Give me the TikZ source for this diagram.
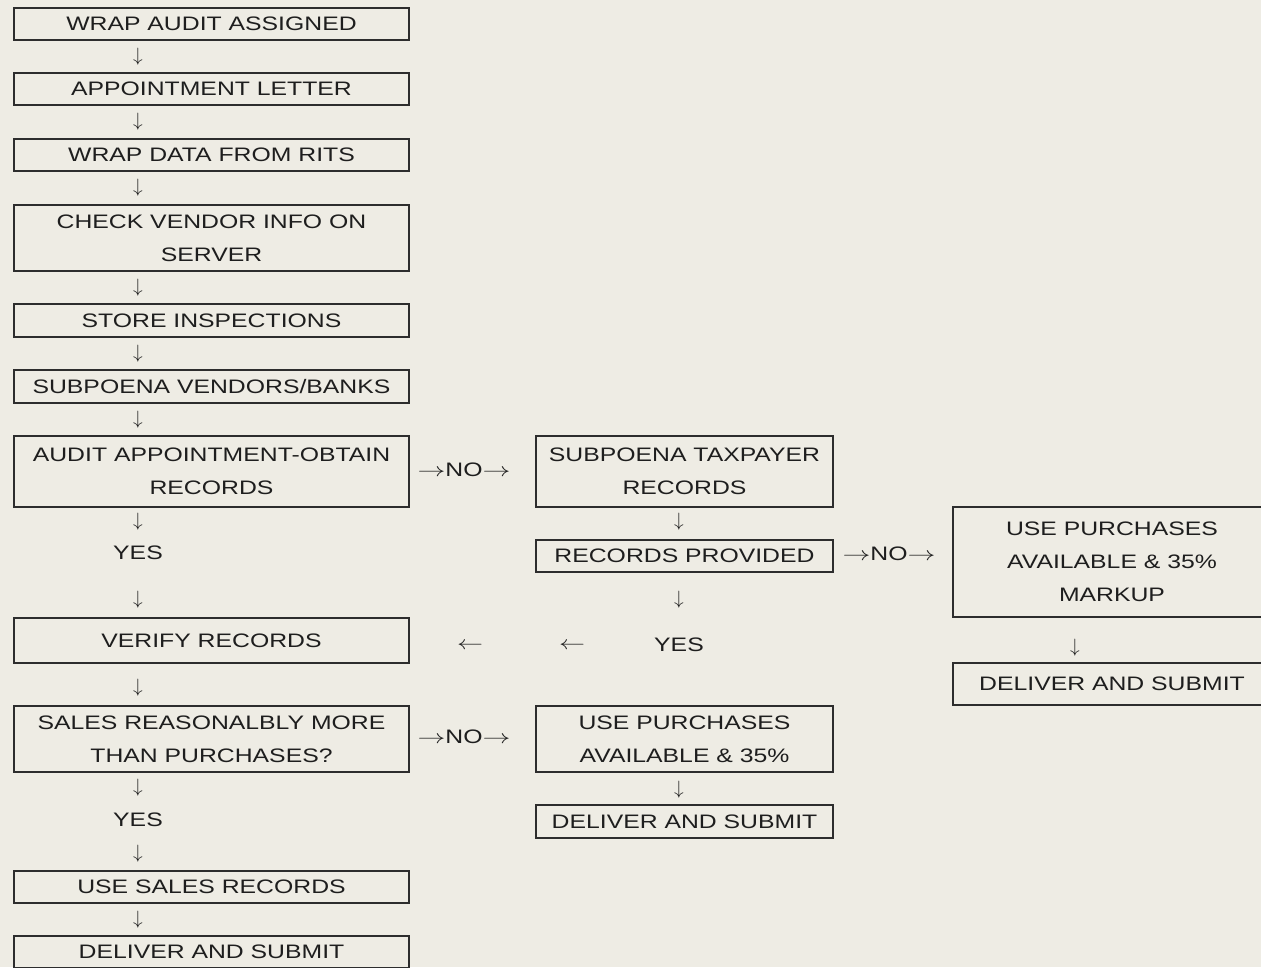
\documentclass[tikz,border=0pt]{standalone}
\usepackage{fontspec}
\setmainfont{Liberation Sans}[FakeStretch=1.27]
\usetikzlibrary{positioning}
\definecolor{slidebg}{RGB}{238, 236, 228}
\definecolor{boxline}{RGB}{45, 45, 45}
\definecolor{inktext}{RGB}{30, 30, 30}
\newcommand{\flowdown}{$\downarrow$}
\newcommand{\flowright}{\scalebox{1.45}[1]{$\rightarrow$}}
\newcommand{\flowleft}{\scalebox{1.35}[1]{$\leftarrow$}}
\tikzset{
    stepbox/.style={draw=boxline, fill=slidebg, rectangle, line width=1.1pt, inner sep=0pt, align=center, text=inktext, font=\fontsize{11.1}{18.8}\selectfont},
    leftbox/.style={stepbox, minimum width=7.9cm},
    midbox/.style={stepbox, minimum width=5.94cm},
    rightbox/.style={stepbox, minimum width=6.38cm},
    flowmark/.style={inner sep=0pt, text=inktext, font=\fontsize{11.1}{18.8}\selectfont},
}

\begin{document}
\begin{tikzpicture}[x=0.02cm, y=-0.02cm]
    % Page
    \useasboundingbox (0, 0) rectangle (1261, 967);
    \clip (0, 0) rectangle (1261, 967);
    \fill[slidebg] (0, 0) rectangle (1261, 967);

    % Left column
    \node[leftbox, minimum height=0.64cm] (assigned) at (211.5, 24) {WRAP AUDIT ASSIGNED};
    \node[flowmark] (d1) at (138, 57) {\flowdown};
    \node[leftbox, minimum height=0.64cm] (letter) at (211.5, 89) {APPOINTMENT LETTER};
    \node[flowmark] (d2) at (138, 122) {\flowdown};
    \node[leftbox, minimum height=0.64cm] (rits) at (211.5, 155) {WRAP DATA FROM RITS};
    \node[flowmark] (d3) at (138, 188) {\flowdown};
    \node[leftbox, minimum height=1.32cm] (vendor) at (211.5, 238) {CHECK VENDOR INFO ON\\SERVER};
    \node[flowmark] (d4) at (138, 288) {\flowdown};
    \node[leftbox, minimum height=0.66cm] (inspect) at (211.5, 320.5) {STORE INSPECTIONS};
    \node[flowmark] (d5) at (138, 354) {\flowdown};
    \node[leftbox, minimum height=0.66cm] (banks) at (211.5, 386.5) {SUBPOENA VENDORS/BANKS};
    \node[flowmark] (d6) at (138, 420) {\flowdown};
    \node[leftbox, minimum height=1.42cm] (appt) at (211.5, 471.5) {AUDIT APPOINTMENT-OBTAIN\\RECORDS};
    \node[flowmark] (d7) at (138, 522) {\flowdown};
    \node[flowmark] (yes1) at (138, 553) {YES};
    \node[flowmark] (d8) at (138, 600) {\flowdown};
    \node[leftbox, minimum height=0.9cm] (verify) at (211.5, 640.5) {VERIFY RECORDS};
    \node[flowmark] (d9) at (138, 688) {\flowdown};
    \node[leftbox, minimum height=1.32cm] (sales) at (211.5, 739) {SALES REASONALBLY MORE\\THAN PURCHASES?};
    \node[flowmark] (d10) at (138, 788) {\flowdown};
    \node[flowmark] (yes2) at (138, 820) {YES};
    \node[flowmark] (d11) at (138, 854) {\flowdown};
    \node[leftbox, minimum height=0.64cm] (usesales) at (211.5, 887) {USE SALES RECORDS};
    \node[flowmark] (d12) at (138, 920) {\flowdown};
    \node[leftbox, minimum height=0.64cm] (deliver1) at (211.5, 952) {DELIVER AND SUBMIT};

    % Middle column
    \node[flowmark] (no1) at (464, 470) {\flowright NO\flowright};
    \node[midbox, minimum height=1.42cm] (taxpayer) at (684.5, 471.5) {SUBPOENA TAXPAYER\\RECORDS};
    \node[flowmark] (d13) at (679, 522) {\flowdown};
    \node[midbox, minimum height=0.64cm] (provided) at (684.5, 556) {RECORDS PROVIDED};
    \node[flowmark] (d14) at (679, 600) {\flowdown};
    \node[flowmark] (yes3) at (679, 645) {YES};
    \node[flowmark] (l1) at (572, 646) {\flowleft};
    \node[flowmark] (l2) at (470, 646) {\flowleft};
    \node[flowmark] (no2) at (464, 737) {\flowright NO\flowright};
    \node[midbox, minimum height=1.32cm] (purch) at (684.5, 739) {USE PURCHASES\\AVAILABLE \& 35\%};
    \node[flowmark] (d15) at (679, 790) {\flowdown};
    \node[midbox, minimum height=0.66cm] (deliver2) at (684.5, 821.5) {DELIVER AND SUBMIT};

    % Right column
    \node[flowmark] (no3) at (889, 554) {\flowright NO\flowright};
    \node[rightbox, minimum height=2.2cm] (markup) at (1112, 562) {USE PURCHASES\\AVAILABLE \& 35\%\\MARKUP};
    \node[flowmark] (d16) at (1075, 648) {\flowdown};
    \node[rightbox, minimum height=0.84cm] (deliver3) at (1112, 684) {DELIVER AND SUBMIT};
\end{tikzpicture}
\end{document}
